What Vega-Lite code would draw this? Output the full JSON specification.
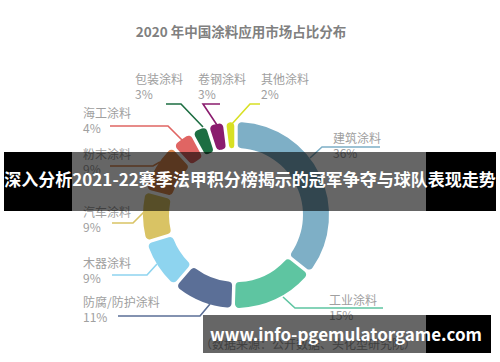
{
  "$schema": "https://vega.github.io/schema/vega-lite/v6.json",
  "width": 500,
  "height": 362,
  "autosize": {"type": "fit", "contains": "padding"},
  "padding": 0,
  "background": "white",
  "config": {"view": {"stroke": null}, "font": "Noto Sans CJK SC"},
  "datasets": {
    "share": [
      {"cat": "建筑涂料", "value": 36, "idx": 1},
      {"cat": "工业涂料", "value": 15, "idx": 2},
      {"cat": "防腐/防护涂料", "value": 11, "idx": 3},
      {"cat": "木器涂料", "value": 9, "idx": 4},
      {"cat": "汽车涂料", "value": 9, "idx": 5},
      {"cat": "粉末涂料", "value": 9, "idx": 6},
      {"cat": "海工涂料", "value": 4, "idx": 7},
      {"cat": "包装涂料", "value": 3, "idx": 8},
      {"cat": "卷钢涂料", "value": 3, "idx": 9},
      {"cat": "其他涂料", "value": 2, "idx": 10}
    ],
    "labels": [
      {"cat": "建筑涂料", "pct": "36%", "x": 333, "y": 139},
      {"cat": "工业涂料", "pct": "15%", "x": 329, "y": 301},
      {"cat": "防腐/防护涂料", "pct": "11%", "x": 83, "y": 303},
      {"cat": "木器涂料", "pct": "9%", "x": 83, "y": 264},
      {"cat": "汽车涂料", "pct": "9%", "x": 83, "y": 213},
      {"cat": "粉末涂料", "pct": "9%", "x": 83, "y": 155},
      {"cat": "海工涂料", "pct": "4%", "x": 83, "y": 114},
      {"cat": "包装涂料", "pct": "3%", "x": 135, "y": 80},
      {"cat": "卷钢涂料", "pct": "3%", "x": 198, "y": 80},
      {"cat": "其他涂料", "pct": "2%", "x": 261, "y": 80}
    ],
    "leaders": [
      {"cat": "建筑涂料", "seq": 1, "x": 310, "y": 158},
      {"cat": "建筑涂料", "seq": 2, "x": 322, "y": 147},
      {"cat": "建筑涂料", "seq": 3, "x": 380, "y": 147},
      {"cat": "工业涂料", "seq": 1, "x": 283, "y": 297},
      {"cat": "工业涂料", "seq": 2, "x": 295, "y": 308},
      {"cat": "工业涂料", "seq": 3, "x": 383, "y": 308},
      {"cat": "防腐/防护涂料", "seq": 1, "x": 118, "y": 316},
      {"cat": "防腐/防护涂料", "seq": 2, "x": 200, "y": 316},
      {"cat": "防腐/防护涂料", "seq": 3, "x": 210, "y": 304},
      {"cat": "木器涂料", "seq": 1, "x": 112, "y": 275},
      {"cat": "木器涂料", "seq": 2, "x": 147, "y": 275},
      {"cat": "木器涂料", "seq": 3, "x": 157, "y": 264},
      {"cat": "汽车涂料", "seq": 1, "x": 112, "y": 223},
      {"cat": "汽车涂料", "seq": 2, "x": 133, "y": 223},
      {"cat": "汽车涂料", "seq": 3, "x": 145, "y": 211},
      {"cat": "粉末涂料", "seq": 1, "x": 110, "y": 166},
      {"cat": "粉末涂料", "seq": 2, "x": 153, "y": 166},
      {"cat": "粉末涂料", "seq": 3, "x": 160, "y": 162},
      {"cat": "海工涂料", "seq": 1, "x": 110, "y": 126},
      {"cat": "海工涂料", "seq": 2, "x": 168, "y": 126},
      {"cat": "海工涂料", "seq": 3, "x": 182, "y": 140},
      {"cat": "包装涂料", "seq": 1, "x": 166, "y": 104},
      {"cat": "包装涂料", "seq": 2, "x": 181, "y": 104},
      {"cat": "包装涂料", "seq": 3, "x": 203, "y": 127},
      {"cat": "卷钢涂料", "seq": 1, "x": 220, "y": 104},
      {"cat": "卷钢涂料", "seq": 2, "x": 203, "y": 104},
      {"cat": "卷钢涂料", "seq": 3, "x": 217, "y": 125},
      {"cat": "其他涂料", "seq": 1, "x": 260, "y": 104},
      {"cat": "其他涂料", "seq": 2, "x": 250, "y": 104},
      {"cat": "其他涂料", "seq": 3, "x": 231, "y": 125}
    ],
    "titles": [
      {"text": "2020 年中国涂料应用市场占比分布", "x": 241, "y": 33}
    ],
    "source": [
      {"text": "（数据来源：公开数据、头化型研究院）", "x": 308, "y": 345}
    ],
    "grayBands": [
      {"x": 72, "x2": 426, "y": 152, "y2": 211},
      {"x": 203, "x2": 426, "y": 315, "y2": 353}
    ],
    "blackBands": [
      {"x": 4, "x2": 72, "y": 152, "y2": 211},
      {"x": 426, "x2": 496, "y": 152, "y2": 211},
      {"x": 426, "x2": 491, "y": 315, "y2": 353}
    ],
    "bannerText": [
      {"text": "深入分析2021-22赛季法甲积分榜揭示的冠军争夺与球队表现走势", "x": 250, "y": 181},
      {"text": "www.info-pgemulatorgame.com", "x": 346, "y": 336}
    ]
  },
  "layer": [
    {
      "data": {"name": "share"},
      "mark": {"type": "arc", "innerRadius": 67, "outerRadius": 93, "cornerRadius": 4, "padAngle": 0.03},
      "encoding": {
        "theta": {"field": "value", "type": "quantitative", "stack": true},
        "order": {"field": "idx", "type": "quantitative"},
        "color": {
          "field": "cat", "type": "nominal", "legend": null,
          "scale": {
            "domain": ["建筑涂料", "工业涂料", "防腐/防护涂料", "木器涂料", "汽车涂料", "粉末涂料", "海工涂料", "包装涂料", "卷钢涂料", "其他涂料"],
            "range": ["#7eafc6", "#5ec5a1", "#5b6f97", "#8ed4ef", "#d9c364", "#d9874f", "#e06563", "#1d6e42", "#8a1c6e", "#d8e024"]
          }
        },
        "x": {"datum": 236, "type": "quantitative", "scale": {"domain": [0, 500]}, "axis": null},
        "y": {"datum": 215, "type": "quantitative", "scale": {"domain": [0, 362], "reverse": true}, "axis": null}
      }
    },
    {
      "data": {"name": "leaders"},
      "mark": {"type": "line", "strokeWidth": 1.6},
      "encoding": {
        "x": {"field": "x", "type": "quantitative", "scale": {"domain": [0, 500]}, "axis": null},
        "y": {"field": "y", "type": "quantitative", "scale": {"domain": [0, 362], "reverse": true}, "axis": null},
        "color": {"field": "cat", "type": "nominal", "legend": null},
        "order": {"field": "seq", "type": "quantitative"}
      }
    },
    {
      "data": {"name": "labels"},
      "mark": {"type": "text", "align": "left", "baseline": "middle", "fontSize": 12, "color": "#a0a0a0"},
      "encoding": {
        "x": {"field": "x", "type": "quantitative", "scale": {"domain": [0, 500]}, "axis": null},
        "y": {"field": "y", "type": "quantitative", "scale": {"domain": [0, 362], "reverse": true}, "axis": null},
        "text": {"field": "cat"}
      }
    },
    {
      "data": {"name": "labels"},
      "mark": {"type": "text", "align": "left", "baseline": "middle", "fontSize": 12, "color": "#a0a0a0", "dy": 15},
      "encoding": {
        "x": {"field": "x", "type": "quantitative", "scale": {"domain": [0, 500]}, "axis": null},
        "y": {"field": "y", "type": "quantitative", "scale": {"domain": [0, 362], "reverse": true}, "axis": null},
        "text": {"field": "pct"}
      }
    },
    {
      "data": {"name": "titles"},
      "mark": {"type": "text", "align": "center", "baseline": "middle", "fontSize": 13.5, "fontWeight": "bold", "color": "#808080"},
      "encoding": {
        "x": {"field": "x", "type": "quantitative", "scale": {"domain": [0, 500]}, "axis": null},
        "y": {"field": "y", "type": "quantitative", "scale": {"domain": [0, 362], "reverse": true}, "axis": null},
        "text": {"field": "text"}
      }
    },
    {
      "data": {"name": "source"},
      "mark": {"type": "text", "align": "center", "baseline": "middle", "fontSize": 12, "color": "#a0a0a0"},
      "encoding": {
        "x": {"field": "x", "type": "quantitative", "scale": {"domain": [0, 500]}, "axis": null},
        "y": {"field": "y", "type": "quantitative", "scale": {"domain": [0, 362], "reverse": true}, "axis": null},
        "text": {"field": "text"}
      }
    },
    {
      "data": {"name": "grayBands"},
      "mark": {"type": "rect", "color": "black", "opacity": 0.6},
      "encoding": {
        "x": {"field": "x", "type": "quantitative", "scale": {"domain": [0, 500]}, "axis": null},
        "x2": {"field": "x2"},
        "y": {"field": "y", "type": "quantitative", "scale": {"domain": [0, 362], "reverse": true}, "axis": null},
        "y2": {"field": "y2"}
      }
    },
    {
      "data": {"name": "blackBands"},
      "mark": {"type": "rect", "color": "black", "opacity": 1},
      "encoding": {
        "x": {"field": "x", "type": "quantitative", "scale": {"domain": [0, 500]}, "axis": null},
        "x2": {"field": "x2"},
        "y": {"field": "y", "type": "quantitative", "scale": {"domain": [0, 362], "reverse": true}, "axis": null},
        "y2": {"field": "y2"}
      }
    },
    {
      "data": {"name": "bannerText"},
      "mark": {"type": "text", "align": "center", "baseline": "middle", "fontSize": 17, "fontWeight": "bold", "color": "white"},
      "encoding": {
        "x": {"field": "x", "type": "quantitative", "scale": {"domain": [0, 500]}, "axis": null},
        "y": {"field": "y", "type": "quantitative", "scale": {"domain": [0, 362], "reverse": true}, "axis": null},
        "text": {"field": "text"}
      }
    }
  ]
}
